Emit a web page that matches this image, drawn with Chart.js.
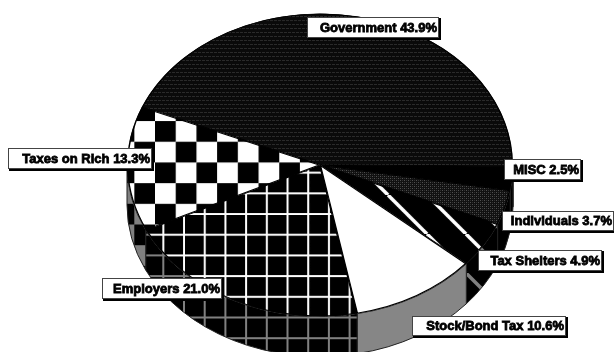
<!DOCTYPE html>
<html>
<head>
<meta charset="utf-8">
<title>Tax burden</title>
<script src="https://cdn.jsdelivr.net/npm/chart.js@4"></script>
<style>
    html, body { margin: 0; padding: 0; background: #fff; overflow: hidden; }
    canvas { display: block; }
</style>
</head>
<body>
<canvas id="chart" width="614" height="352"></canvas>
<script>
const categories = ["Government", "MISC", "Individuals", "Tax Shelters", "Stock/Bond Tax", "Employers", "Taxes on Rich"];
const shares = [43.9, 2.5, 3.7, 4.9, 10.6, 21.0, 13.3];

// callout boxes, same order as categories: left, top, right, bottom
const calloutBoxes = [
    [307, 17, 439, 38],
    [504, 159, 581, 180],
    [502, 211, 614, 231],
    [478, 250, 602, 271],
    [412, 316, 566, 336],
    [102, 278, 222, 299],
    [8, 148, 152, 169]
];

const squash = 0.785;
const wallDepth = 40;
const cell = 20.7;

function makeTile(size, paint)
{
    const tile = document.createElement("canvas");
    tile.width = size;
    tile.height = size;
    paint(tile.getContext("2d"));
    return tile;
}

function hatchTile()
{
    return makeTile(8, g =>
    {
        g.fillStyle = "#0a0a0a";
        g.fillRect(0, 0, 8, 8);
        g.fillStyle = "#2a2a2a";
        g.fillRect(0, 0, 3, 1);
        g.fillRect(4, 0, 3, 1);
        g.fillRect(2, 4, 3, 1);
        g.fillRect(6, 4, 2, 1);
        g.fillRect(0, 4, 1, 1);
    });
}

function ditherTile()
{
    return makeTile(4, g =>
    {
        g.fillStyle = "#111";
        g.fillRect(0, 0, 4, 4);
        g.fillStyle = "#505050";
        g.fillRect(0, 0, 1, 1);
        g.fillRect(2, 2, 1, 1);
        g.fillStyle = "#303030";
        g.fillRect(2, 0, 1, 1);
        g.fillRect(0, 2, 1, 1);
    });
}

function stripeTile(color)
{
    return makeTile(39, g =>
    {
        g.fillStyle = "#000";
        g.fillRect(0, 0, 39, 39);
        g.strokeStyle = color;
        g.lineWidth = 3.5;
        for(let k = -2; k <= 1; k++)
        {
            g.beginPath();
            g.moveTo(37 + k * 39, 0);
            g.lineTo(37 + k * 39 + 39, 39);
            g.stroke();
        }
    });
}

function gridTile(color)
{
    return makeTile(207, g =>
    {
        g.fillStyle = "#000";
        g.fillRect(0, 0, 207, 207);
        g.fillStyle = color;
        for(let k = 0; k < 10; k++)
        {
            g.fillRect(18.4 + k * cell - 1, 0, 2, 207);
            g.fillRect(0, 7 + k * cell - 1, 207, 2);
        }
    });
}

function checkerTile(color)
{
    return makeTile(207, g =>
    {
        g.fillStyle = color;
        g.fillRect(0, 0, 207, 207);
        g.fillStyle = "#000";
        for(let i = -1; i < 10; i++)
        {
            for(let j = -1; j < 10; j++)
            {
                if((i + j + 20) % 2 === 0)
                {
                    g.fillRect(10.1 + i * cell, 17.5 + j * cell, cell, cell);
                }
            }
        }
    });
}

const ctx = document.getElementById("chart").getContext("2d");
const pattern = tile => ctx.createPattern(tile, "repeat");

const topFills = [
    pattern(hatchTile()),
    "#000",
    pattern(ditherTile()),
    pattern(stripeTile("#fff")),
    "#fff",
    pattern(gridTile("#fff")),
    pattern(checkerTile("#fff"))
];

const wallFills = [
    "#000",
    "#000",
    "#000",
    pattern(stripeTile("#808080")),
    "#868686",
    pattern(gridTile("#808080")),
    pattern(checkerTile("#808080"))
];

// draws the rim under the front half of the pie, in plain page coordinates
function drawWalls(chart)
{
    const c = chart.ctx;
    chart.getDatasetMeta(0).data.forEach((arc, i) =>
    {
        const start = Math.max(arc.startAngle, 0);
        const end = Math.min(arc.endAngle, Math.PI);
        if(end <= start)
        {
            return;
        }
        const r = arc.outerRadius;
        c.beginPath();
        c.ellipse(arc.x, arc.y, r, r * squash, 0, start, end);
        c.ellipse(arc.x, arc.y + wallDepth, r, r * squash, 0, end, start, true);
        c.closePath();
        c.fillStyle = wallFills[i];
        c.fill();
        c.strokeStyle = "#222";
        c.lineWidth = 1;
        c.stroke();
    });
}

const tiltedPie = {
    id: "tiltedPie",
    beforeDatasetDraw(chart)
    {
        drawWalls(chart);
        const c = chart.ctx;
        const { x, y } = chart.getDatasetMeta(0).data[0];
        const tilt = new DOMMatrix().translate(x, y).scale(1, squash).translate(-x, -y);
        // keep the fills square on the page while the slices get squashed
        topFills.forEach(fill =>
        {
            if(typeof fill !== "string")
            {
                fill.setTransform(tilt.inverse());
            }
        });
        c.save();
        c.transform(tilt.a, tilt.b, tilt.c, tilt.d, tilt.e, tilt.f);
    },
    afterDatasetDraw(chart)
    {
        chart.ctx.restore();
    },
    afterDraw(chart)
    {
        const c = chart.ctx;
        c.save();
        c.font = "bold 13px 'Liberation Sans'";
        c.textAlign = "right";
        c.textBaseline = "middle";
        categories.forEach((name, i) =>
        {
            const [left, top, right, bottom] = calloutBoxes[i];
            c.fillStyle = "#000";
            c.fillRect(left + 1, top + 1, right - left + 1, bottom - top + 1);
            c.fillStyle = "#fff";
            c.fillRect(left, top, right - left, bottom - top);
            c.strokeStyle = "#444";
            c.lineWidth = 1;
            c.strokeRect(left + 0.5, top + 0.5, right - left - 1, bottom - top - 1);
            const label = `${name} ${shares[i].toFixed(1)}%`;
            const tx = right - 2;
            const ty = (top + bottom) / 2 + 0.5;
            c.fillStyle = "#000";
            c.strokeStyle = "#000";
            c.lineWidth = 0.8;
            c.strokeText(label, tx, ty);
            c.fillText(label, tx, ty);
        });
        c.restore();
    }
};

new Chart(ctx, {
    type: "pie",
    data: {
        labels: categories,
        datasets: [{
            data: shares,
            backgroundColor: topFills,
            borderColor: "#000",
            borderWidth: 1,
            borderAlign: "inner",
            clip: false
        }]
    },
    options: {
        responsive: false,
        animation: false,
        rotation: -67.5,
        radius: 193,
        layout: { padding: { left: 26, bottom: 22 } },
        plugins: {
            legend: { display: false },
            tooltip: { enabled: false }
        }
    },
    plugins: [tiltedPie]
});
</script>
</body>
</html>
